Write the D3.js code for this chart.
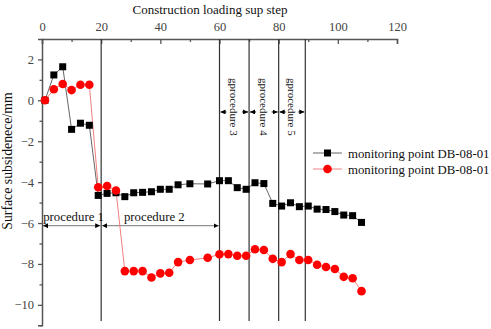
<!DOCTYPE html>
<html>
<head>
<meta charset="utf-8">
<script src="https://cdn.jsdelivr.net/npm/d3@7"></script>
<style>
  body { margin: 0; background: #fff; }
  svg { display: block; font-family: "Liberation Serif", "Times New Roman", serif; }
</style>
</head>
<body>
<svg id="chart"></svg>
<script>
// loading steps
const steps = [1,4,7,10,13,16,19,22,25,28,31,34,37,40,43,46,50,56,60,63,66,69,72,75,78,81,84,87,90,93,96,99,102,105,108];
// settlement of the two series (mm)
const seriesA = [0,1.24,1.64,-1.42,-1.12,-1.22,-4.65,-4.55,-4.52,-4.71,-4.52,-4.50,-4.47,-4.35,-4.35,-4.13,-4.08,-4.09,-3.93,-3.93,-4.27,-4.35,-4.03,-4.07,-5.04,-5.17,-5.01,-5.20,-5.17,-5.32,-5.34,-5.44,-5.61,-5.64,-5.97];
const seriesB = [0,0.54,0.80,0.50,0.76,0.76,-4.25,-4.19,-4.41,-8.35,-8.35,-8.35,-8.66,-8.46,-8.43,-7.91,-7.81,-7.70,-7.53,-7.52,-7.60,-7.60,-7.28,-7.32,-7.75,-7.91,-7.52,-7.81,-7.81,-8.04,-8.15,-8.25,-8.63,-8.70,-9.33];
const seriesNames = ["monitoring point DB-08-01", "monitoring point DB-08-01"];
const xTicks = [0,20,40,60,80,100,120];
const yTicks = [2,0,-2,-4,-6,-8,-10];
// procedure boundaries (step) and labels
const procBounds = [0,20,60,70,80,89];
const procLabels = ["procedure 1","procedure 2","gprocedure 3","gprocedure 4","gprocedure 5"];

const width = 491, height = 329;
const svg = d3.select("#chart").attr("width", width).attr("height", height);

const x = d3.scaleLinear().domain([0,120]).range([42,397]);
const y = d3.scaleLinear().domain([-11,3]).range([325.3,38.95]);
const axisColor = "#555";

const defs = svg.append("defs");
defs.append("marker").attr("id","arr")
  .attr("viewBox","0 0 10 10").attr("refX",10).attr("refY",5)
  .attr("markerWidth",5).attr("markerHeight",5).attr("orient","auto-start-reverse")
  .append("path").attr("d","M0,0L10,5L0,10z").attr("fill","#000");

// title
svg.append("text").attr("x",210).attr("y",13.5).attr("text-anchor","middle")
  .attr("font-size",13).attr("fill","#111").text("Construction loading sup step");

// top axis
svg.append("g").attr("transform",`translate(0,${y(3)})`)
  .call(d3.axisTop(x).tickValues(xTicks).tickSize(-5).tickPadding(8).tickFormat(d3.format("d")));
svg.append("g").attr("transform",`translate(0,${y(3)})`)
  .call(d3.axisTop(x).tickValues(d3.range(10,120,20)).tickSize(-3).tickFormat(""))
  .call(g => g.select(".domain").remove());

// left axis
svg.append("g").attr("transform",`translate(${x(0)},0)`)
  .call(d3.axisLeft(y).tickValues(yTicks).tickSize(4).tickPadding(4).tickFormat(d => d < 0 ? "\u2212" + Math.abs(d) : d));
svg.append("g").attr("transform",`translate(${x(0)},0)`)
  .call(d3.axisLeft(y).tickValues([1,-1,-3,-5,-7,-9,-11]).tickSize(2.5).tickFormat(""))
  .call(g => g.select(".domain").remove());
svg.selectAll(".domain").attr("stroke",axisColor).attr("stroke-width",1.5);
svg.selectAll(".tick line").attr("stroke",axisColor).attr("stroke-width",1.3);
svg.selectAll(".tick text").attr("font-size",12.5).attr("fill","#444")
  .attr("font-family","Liberation Serif, serif");

// y label
svg.append("text").attr("transform",`translate(12,161) rotate(-90)`).attr("text-anchor","middle")
  .attr("font-size",13.8).attr("fill","#111").text("Surface subsidenece/mm");

// procedure lines
svg.append("g").selectAll("line").data(procBounds.slice(1)).join("line")
  .attr("x1",d => x(d)).attr("x2",d => x(d)).attr("y1",y(3)).attr("y2",321)
  .attr("stroke","#333").attr("stroke-width",1.2);

// procedure 1 & 2 arrows
const ay = y(-6.13);
[0,1].forEach(i => {
  const x0 = x(procBounds[i]) + 1, x1 = x(procBounds[i+1]) - 1;
  svg.append("line").attr("x1",x0).attr("x2",x1).attr("y1",ay).attr("y2",ay)
    .attr("stroke","#777").attr("stroke-width",1)
    .attr("marker-start","url(#arr)").attr("marker-end","url(#arr)");
  svg.append("text").attr("x",(x0+x1)/2 + (i === 0 ? 2 : -6)).attr("y",ay - 5).attr("text-anchor","middle")
    .attr("font-size",12.8).attr("fill","#111").text(procLabels[i]);
});

// procedure 3-5 short arrows and vertical labels
const by = y(-0.57);
[2,3,4].forEach(i => {
  const x0 = x(procBounds[i]), x1 = x(procBounds[i+1]);
  svg.append("line").attr("x1",x0+7).attr("x2",x0+1).attr("y1",by).attr("y2",by)
    .attr("stroke","#000").attr("stroke-width",1).attr("marker-end","url(#arr)");
  svg.append("line").attr("x1",x1-7).attr("x2",x1-1).attr("y1",by).attr("y2",by)
    .attr("stroke","#000").attr("stroke-width",1).attr("marker-end","url(#arr)");
  svg.append("text").attr("transform",`translate(${(x0+x1)/2 - 4},${y(1.09)}) rotate(90)`)
    .attr("font-size",11).attr("fill","#111").text(procLabels[i]);
});

// series
const line = d3.line().x(d => x(d[0])).y(d => y(d[1]));
const dataA = steps.map((s,i) => [s, seriesA[i]]);
const dataB = steps.map((s,i) => [s, seriesB[i]]);

svg.append("path").datum(dataA).attr("d",line).attr("fill","none")
  .attr("stroke","#666").attr("stroke-width",1);
svg.append("path").datum(dataB).attr("d",line).attr("fill","none")
  .attr("stroke","#f08080").attr("stroke-width",1);

svg.append("g").selectAll("rect").data(dataA).join("rect")
  .attr("x",d => x(d[0]) - 3.5).attr("y",d => y(d[1]) - 3.5)
  .attr("width",7).attr("height",7).attr("fill","#000");
svg.append("g").selectAll("circle").data(dataB).join("circle")
  .attr("cx",d => x(d[0])).attr("cy",d => y(d[1])).attr("r",4.3).attr("fill","#ff0000");

// legend
const legend = svg.append("g");
seriesNames.forEach((name,i) => {
  const ly = 153 + i*16;
  legend.append("line").attr("x1",313).attr("x2",342).attr("y1",ly).attr("y2",ly)
    .attr("stroke", i === 0 ? "#666" : "#f08080").attr("stroke-width",1);
  if (i === 0) legend.append("rect").attr("x",324).attr("y",ly-3.5).attr("width",7).attr("height",7).attr("fill","#000");
  else legend.append("circle").attr("cx",327.5).attr("cy",ly).attr("r",4.3).attr("fill","#ff0000");
  legend.append("text").attr("x",348).attr("y",ly+4.5).attr("font-size",12.8).attr("fill","#111").text(name);
});
</script>
</body>
</html>
